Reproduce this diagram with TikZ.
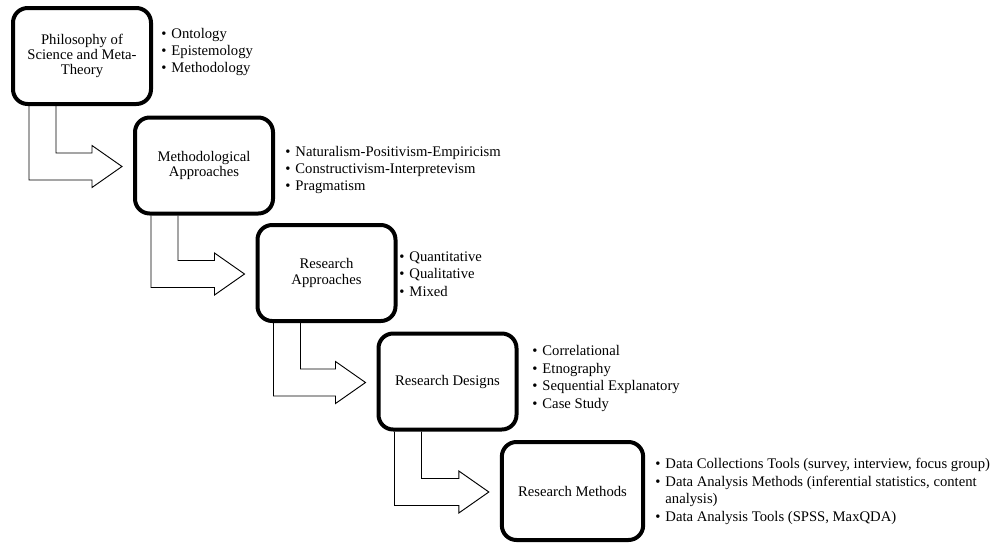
\documentclass[tikz,border=0pt]{standalone}
\usepackage{fontspec}
\setmainfont{Liberation Serif}
\usetikzlibrary{calc}
\newcommand{\itm}{\textbullet\hspace{3.8pt}}
\tikzset{
  stage/.style={draw, fill=white, line width=3pt, rounded corners=11pt,
    minimum width=103.5pt, minimum height=72pt, align=center,
    font=\fontsize{11}{11.4}\selectfont},
  items/.style={anchor=west, align=left, inner sep=0pt,
    font=\fontsize{11}{13.1}\selectfont},
  shaft/.style={line width=0.7pt, line join=miter}
}
\newcommand{\bentarrow}[2]{%
  \coordinate (o) at ($(#1.south west)+(18,0)$);
  \coordinate (i) at ($(#1.south west)+(45,0)$);
  \coordinate (h) at ($(#2.west)+(-41,1)$);
  \draw[shaft] (o) -- ($(o |- h)+(0,13.5)$) -- ($(h)+(0,13.5)$) -- ($(h)+(0,21)$)
    -- ($(#2.west)+(-11,1)$) -- ($(h)+(0,-21)$) -- ($(h)+(0,-13.5)$)
    -- ($(i |- h)+(0,-13.5)$) -- (i);
}

\begin{document}
\begin{tikzpicture}[x=0.75pt,y=-0.75pt]
\useasboundingbox (0,0) rectangle (1000,543);
\node[stage] (phil) at (82,56) {Philosophy of\\ Science and Meta-\\ Theory};
\node[stage] (meth) at (204,165.5) {Methodological\\ Approaches};
\node[stage] (appr) at (326.5,273) {Research\\ Approaches};
\node[stage] (desg) at (447.5,381.5) {Research Designs};
\node[stage, minimum width=106pt, minimum height=73.5pt] (mthd) at (572.5,491) {Research Methods};

\node[items] (philL) at (161,52) {\itm Ontology\\ \itm Epistemology\\ \itm Methodology};
\node[items] (methL) at (285,170) {\itm Naturalism-Positivism-Empiricism\\ \itm Constructivism-Interpretevism\\ \itm Pragmatism};
\node[items] (apprL) at (399,274) {\itm Quantitative\\ \itm Qualitative\\ \itm Mixed};
\node[items] (desgL) at (532,378.5) {\itm Correlational\\ \itm Etnography\\ \itm Sequential Explanatory\\ \itm Case Study};
\node[items] (mthdL) at (655,491.5) {\itm Data Collections Tools (survey, interview, focus group)\\ \itm Data Analysis Methods (inferential statistics, content\\ \hphantom{\itm}analysis)\\ \itm Data Analysis Tools (SPSS, MaxQDA)};

\bentarrow{phil}{meth}
\bentarrow{meth}{appr}
\bentarrow{appr}{desg}
\bentarrow{desg}{mthd}
\end{tikzpicture}
\end{document}
